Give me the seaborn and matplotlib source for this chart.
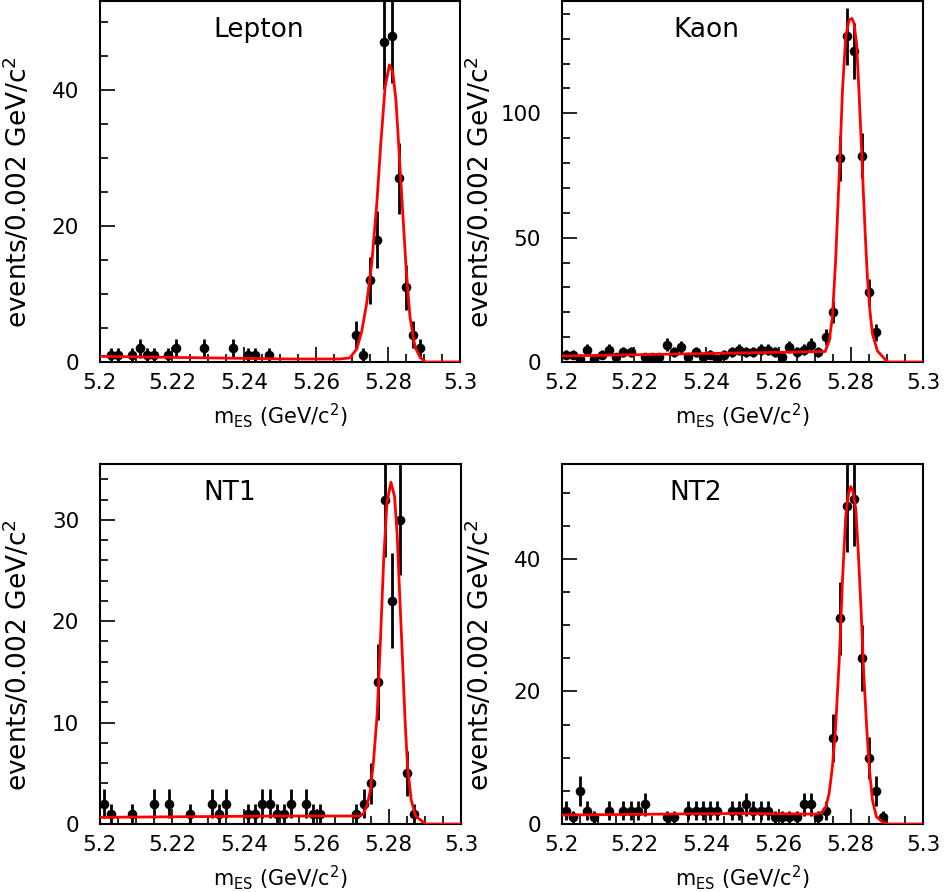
"""Four m_ES fit panels: Lepton, Kaon, NT1, NT2 categories
"""

import numpy as np
import matplotlib
matplotlib.use('Agg')
import matplotlib.pyplot as plt
from matplotlib.ticker import MultipleLocator
import seaborn as sns
import pandas as pd

# bin centres, 0.002 GeV/c^2 wide, 5.200 - 5.300
bin_centres = [round(5.201 + 0.002 * i, 3) for i in range(50)]

# events per bin
lepton_counts = [0, 1, 1, 0, 1, 2, 1, 1, 0, 1,
                 2, 0, 0, 0, 2, 0, 0, 0, 2, 0,
                 1, 1, 0, 1, 0, 0, 0, 0, 0, 0,
                 0, 0, 0, 0, 0, 4, 1, 12, 18, 47,
                 48, 27, 11, 4, 2, 0, 0, 0, 0, 0]
kaon_counts = [3, 3, 1, 5, 1, 3, 5, 2, 4, 4,
               0, 2, 2, 2, 7, 4, 6, 2, 4, 2,
               3, 1, 3, 4, 5, 4, 4, 5, 5, 4,
               2, 6, 4, 5, 7, 4, 10, 20, 82, 131,
               125, 83, 28, 12, 0, 0, 0, 0, 0, 0]
nt1_counts = [2, 1, 0, 0, 1, 0, 0, 2, 0, 2,
              0, 0, 1, 0, 0, 2, 1, 2, 0, 0,
              1, 1, 2, 2, 1, 1, 2, 0, 2, 1,
              1, 0, 0, 0, 0, 1, 2, 4, 14, 32,
              22, 30, 5, 1, 0, 0, 0, 0, 0, 0]
nt2_counts = [2, 1, 5, 2, 1, 0, 2, 0, 2, 2,
              2, 3, 0, 0, 1, 1, 0, 2, 2, 2,
              2, 2, 0, 2, 2, 3, 2, 2, 2, 1,
              1, 1, 1, 3, 3, 1, 2, 13, 31, 48,
              49, 25, 10, 5, 1, 0, 0, 0, 0, 0]

# fitted curves
lepton_fit_x = [5.200, 5.225, 5.2528, 5.2667, 5.2694, 5.2713, 5.2727, 5.2741, 5.2755,
                5.2769, 5.2780, 5.2792, 5.2804, 5.2813, 5.2822, 5.2831, 5.2841, 5.2850,
                5.2861, 5.2875, 5.2889, 5.2903, 5.300]
lepton_fit_y = [0.83, 0.64, 0.44, 0.44, 0.6, 1.9, 4.5, 8.7, 14.6,
                23.4, 32.2, 40.5, 43.7, 42.7, 38.5, 30.7, 21.9, 14.0,
                6.6, 2.2, 0.7, 0.0, 0.0]
kaon_fit_x = [5.200, 5.240, 5.2729, 5.2740, 5.2749, 5.2758, 5.2768, 5.2777, 5.2786,
              5.2795, 5.2803, 5.2809, 5.2816, 5.2823, 5.2830, 5.2834, 5.2840, 5.2846,
              5.2853, 5.2860, 5.2874, 5.2902, 5.300]
kaon_fit_y = [2.4, 3.4, 4.2, 8.5, 17.9, 40.7, 75.7, 109.3, 130.8,
              137.5, 138.2, 136.2, 128.1, 107.9, 85.1, 71.0, 51.5, 34.0,
              20.6, 11.2, 4.4, 0.0, 0.0]
nt1_fit_x = [5.200, 5.2499, 5.2721, 5.2730, 5.2740, 5.2749, 5.2758, 5.2768, 5.2777,
             5.2786, 5.2795, 5.2806, 5.2816, 5.2823, 5.2830, 5.2838, 5.2845, 5.2852,
             5.2862, 5.2874, 5.2902, 5.300]
nt1_fit_y = [0.66, 0.79, 0.79, 1.05, 1.87, 3.3, 6.3, 10.9, 18.2,
             26.1, 31.7, 33.7, 32.3, 28.7, 22.8, 16.2, 10.3, 5.7,
             2.4, 0.8, 0.0, 0.0]
nt2_fit_x = [5.200, 5.2493, 5.2703, 5.2721, 5.2731, 5.2740, 5.2749, 5.2758, 5.2768,
             5.2777, 5.2786, 5.2794, 5.2800, 5.2806, 5.2814, 5.2821, 5.2829, 5.2836,
             5.2844, 5.2851, 5.2860, 5.2871, 5.2888, 5.2902, 5.300]
nt2_fit_y = [1.36, 1.6, 1.5, 1.8, 2.6, 4.6, 8.6, 14.6, 24.7,
             36.8, 46.4, 49.9, 50.9, 50.2, 47.4, 40.8, 31.7, 22.6,
             14.6, 8.6, 3.6, 1.1, 0.3, 0.0, 0.0]

panel_names = ['Lepton', 'Kaon', 'NT1', 'NT2']
y_tops = [53.1, 145.2, 35.5, 54.3]
y_major = [20, 50, 10, 20]
y_minor = [5, 10, 2, 5]

sns.set_style('ticks')
plt.rcParams['font.family'] = ['DejaVu Sans']
plt.rcParams['mathtext.default'] = 'regular'
plt.rcParams['text.color'] = 'black'
plt.rcParams['axes.labelcolor'] = 'black'

fig = plt.figure(figsize=(9.45, 8.92), dpi=100)
boxes = [[0.1058, 0.5942, 0.3810, 0.4047],
         [0.5947, 0.5942, 0.3820, 0.4047],
         [0.1058, 0.0762, 0.3820, 0.4036],
         [0.5947, 0.0762, 0.3820, 0.4036]]
title_x = [0.44, 0.40, 0.36, 0.37]

panels = [
    (lepton_counts, lepton_fit_x, lepton_fit_y),
    (kaon_counts, kaon_fit_x, kaon_fit_y),
    (nt1_counts, nt1_fit_x, nt1_fit_y),
    (nt2_counts, nt2_fit_x, nt2_fit_y),
]

for k, (counts, fx, fy) in enumerate(panels):
    ax = fig.add_axes(boxes[k])
    df = pd.DataFrame({'m_es': bin_centres, 'n': counts})
    df = df[df['n'] > 0]
    err = np.sqrt(df['n'])

    ax.errorbar(df['m_es'], df['n'], yerr=err, fmt='none', ecolor='black',
                elinewidth=2.0, capsize=0, zorder=2)
    sns.scatterplot(data=df, x='m_es', y='n', ax=ax, color='black', s=48,
                    linewidth=0, zorder=3)
    sns.lineplot(x=fx, y=fy, ax=ax, color='#ff0000', linewidth=2.0,
                 estimator=None, sort=False, zorder=4)

    ax.set_xlim(5.2, 5.3)
    ax.set_ylim(0, y_tops[k])
    ax.xaxis.set_major_locator(MultipleLocator(0.02))
    ax.xaxis.set_minor_locator(MultipleLocator(0.005))
    ax.yaxis.set_major_locator(MultipleLocator(y_major[k]))
    ax.yaxis.set_minor_locator(MultipleLocator(y_minor[k]))
    ax.set_xticks([5.2, 5.22, 5.24, 5.26, 5.28, 5.3])
    ax.set_xticklabels(['5.2', '5.22', '5.24', '5.26', '5.28', '5.3'])

    ax.tick_params(which='both', direction='in', top=False, right=False,
                   width=1.2, colors='black')
    ax.tick_params(axis='x', which='major', length=11, pad=8, labelsize=15.5)
    ax.tick_params(axis='y', which='major', length=11, pad=15, labelsize=15.5)
    ax.tick_params(which='minor', length=6)
    for sp in ax.spines.values():
        sp.set_linewidth(1.5)
        sp.set_color('black')

    ax.set_xlabel(r'm$_{ES}$ (GeV/c$^{2}$)', fontsize=15)
    ax.set_ylabel(r'events/0.002 GeV/c$^{2}$', fontsize=19)
    ax.xaxis.set_label_coords(0.5, -0.11)
    ax.yaxis.set_label_coords(-0.185, 0.47)

    ax.text(title_x[k], 0.92, panel_names[k], transform=ax.transAxes,
            ha='center', va='center', fontsize=19, color='black')

fig.savefig('out.png', dpi=100)
